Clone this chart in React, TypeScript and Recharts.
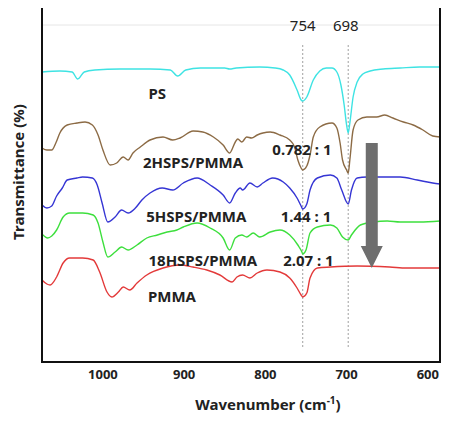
import React from "react";
import {
  LineChart,
  Line,
  XAxis,
  YAxis,
  ReferenceLine,
  ReferenceDot,
} from "recharts";

// wavenumber (cm-1) / stacked transmittance (a.u.)
const psWn = [1075, 1053, 1038, 1031, 1023, 1010, 979, 942, 917, 908, 898, 880, 850, 844, 836, 807, 788, 778, 770, 761, 756, 754, 749, 741, 733, 725, 718, 712, 707, 703, 700, 698, 696, 692, 687, 680, 671, 655, 634, 610, 585];
const psT = [290, 291, 290, 283, 290, 292, 293, 293, 292, 286, 292, 294, 294, 293, 294, 295, 294, 292, 287, 272, 262, 261, 265, 282, 291, 294, 294, 290, 277, 257, 237, 229, 239, 265, 280, 288, 291, 293, 294, 295, 295];

const hs2Wn = [1075, 1069, 1063, 1058, 1053, 1044, 1032, 1022, 1013, 1006, 1000, 991, 983, 975, 969, 963, 954, 942, 926, 914, 905, 889, 877, 864, 852, 844, 837, 834, 829, 823, 817, 810, 803, 794, 782, 770, 764, 760, 756, 754, 749, 745, 741, 733, 718, 712, 708, 705, 700, 698, 696, 692, 686, 675, 663, 653, 643, 630, 618, 606, 594, 585];
const hs2T = [214, 212, 212, 219, 229, 237, 239, 240, 237, 227, 212, 197, 199, 205, 202, 209, 215, 222, 225, 222, 224, 231, 230, 225, 217, 209, 220, 223, 220, 225, 224, 227, 229, 230, 227, 222, 215, 202, 194, 192, 196, 207, 225, 235, 239, 234, 219, 202, 192, 189, 202, 232, 242, 245, 245, 247, 244, 240, 237, 232, 226, 225];

const hs5Wn = [1075, 1069, 1063, 1057, 1050, 1044, 1032, 1025, 1013, 1007, 1001, 994, 985, 977, 969, 960, 952, 942, 927, 914, 901, 884, 868, 852, 844, 837, 831, 828, 819, 810, 803, 791, 778, 770, 761, 756, 754, 749, 745, 736, 720, 712, 706, 698, 694, 687, 675, 634, 613, 594, 585];
const hs5T = [157, 154, 156, 166, 174, 182, 184, 185, 184, 177, 159, 140, 145, 152, 149, 154, 162, 169, 174, 172, 179, 184, 177, 167, 159, 169, 174, 172, 179, 175, 179, 184, 180, 174, 164, 156, 153, 158, 172, 184, 187, 184, 172, 158, 172, 184, 185, 185, 182, 179, 178];

const hs18Wn = [1075, 1068, 1063, 1057, 1049, 1041, 1025, 1012, 1006, 1000, 994, 985, 977, 969, 958, 946, 933, 921, 909, 901, 884, 868, 852, 844, 837, 829, 823, 815, 807, 794, 782, 770, 760, 755, 754, 750, 745, 736, 720, 712, 705, 698, 694, 683, 667, 650, 634, 610, 585];
const hs18T = [128, 124, 126, 132, 145, 149, 149, 147, 139, 120, 105, 110, 115, 112, 117, 124, 127, 130, 132, 135, 139, 134, 124, 112, 124, 127, 125, 129, 125, 130, 132, 127, 117, 110, 108, 112, 129, 135, 137, 134, 125, 122, 127, 137, 140, 141, 140, 140, 141];

const pmmaWn = [1075, 1069, 1065, 1057, 1049, 1041, 1025, 1012, 1004, 995, 989, 981, 975, 967, 958, 946, 926, 905, 889, 872, 856, 841, 835, 828, 819, 810, 798, 782, 770, 761, 756, 754, 749, 745, 736, 720, 687, 647, 626, 594, 585];
const pmmaT = [82, 78, 77, 85, 99, 104, 104, 102, 90, 70, 65, 70, 75, 72, 79, 87, 94, 97, 95, 92, 87, 80, 85, 87, 84, 89, 92, 90, 84, 74, 67, 65, 69, 84, 94, 95, 96, 95, 94, 94, 94];

const xTicks = [1000, 900, 800, 700, 600];
const peaks = [754, 698];
const ratios = ["0.782 : 1", "1.44 : 1", "2.07 : 1"];

const toRows = (wn: number[], t: number[]) => wn.map((w, i) => ({ wn: w, t: t[i] }));

const series = [
  { name: "PS", data: toRows(psWn, psT), color: "#3ee3e3" },
  { name: "2HSPS/PMMA", data: toRows(hs2Wn, hs2T), color: "#8c6b45" },
  { name: "5HSPS/PMMA", data: toRows(hs5Wn, hs5T), color: "#3535d4" },
  { name: "18HSPS/PMMA", data: toRows(hs18Wn, hs18T), color: "#3ddf3d" },
  { name: "PMMA", data: toRows(pmmaWn, pmmaT), color: "#e33a3a" },
];

const font = "'Noto Sans', 'DejaVu Sans', sans-serif";

// where the text notes sit, in chart units
const notes = [
  { text: "PS", x: 933, y: 269 },
  { text: "2HSPS/PMMA", x: 889, y: 200 },
  { text: ratios[0], x: 755, y: 213 },
  { text: "5HSPS/PMMA", x: 885, y: 146 },
  { text: ratios[1], x: 750, y: 146 },
  { text: "18HSPS/PMMA", x: 877, y: 102 },
  { text: ratios[2], x: 747, y: 102 },
  { text: "PMMA", x: 915, y: 66 },
];

const yTicks = Array.from({ length: 12 }, (_, i) => (i + 1) * 27.5);

const Arrow = (p: any) => {
  const { x1, y1, y2 } = p;
  const x = x1;
  const head = 22;
  const pts = [
    [x - 6, y1],
    [x + 6, y1],
    [x + 6, y2 - head],
    [x + 11, y2 - head],
    [x, y2],
    [x - 11, y2 - head],
    [x - 6, y2 - head],
  ]
    .map((q) => q.join(","))
    .join(" ");
  return <polygon points={pts} fill="#6e6e6e" />;
};

const XTitle = (p: any) => {
  const vb = p.viewBox;
  return (
    <text
      x={vb.x + vb.width / 2 + 27}
      y={vb.y + 48}
      textAnchor="middle"
      fontFamily={font}
      fontWeight="bold"
      fontSize={15}
      fill="#222"
    >
      <tspan>Wavenumber (cm</tspan>
      <tspan dy={-6} fontSize={10}>-1</tspan>
      <tspan dy={6}>)</tspan>
    </text>
  );
};

const YTitle = () => (
  <text
    x={18}
    y={172}
    transform="rotate(-90 18 172)"
    textAnchor="middle"
    dominantBaseline="central"
    fontFamily={font}
    fontWeight="bold"
    fontSize={15}
    fill="#222"
  >
    Transmittance (%)
  </text>
);

export default function App() {
  return (
    <div style={{ margin: -8, position: "relative", width: 457, height: 423 }}>
      <LineChart width={457} height={423} margin={{ top: 7, right: 17, bottom: 0, left: 0 }}>
        <XAxis
          dataKey="wn"
          type="number"
          domain={[585, 1075]}
          reversed
          ticks={xTicks}
          axisLine={false}
          tickLine={false}
          height={61}
          allowDataOverflow
          tick={{ fontFamily: font, fontWeight: "bold", fontSize: 13, fill: "#222" }}
          label={{ content: XTitle }}
        />
        <YAxis
          type="number"
          domain={[0, 355]}
          ticks={yTicks}
          width={42}
          axisLine={false}
          tick={false}
          tickSize={3}
          tickLine={{ stroke: "#999" }}
          allowDataOverflow
          label={{ content: YTitle }}
        />
        <ReferenceLine y={337} stroke="#e6e6e6" ifOverflow="visible" />
        {peaks.map((p) => (
          <ReferenceLine
            key={p}
            segment={[{ x: p, y: 317 }, { x: p, y: 15 }]}
            stroke="#888"
            strokeWidth={0.8}
            strokeDasharray="2 2"
          />
        ))}
        {series.map((s) => (
          <Line
            key={s.name}
            data={s.data}
            dataKey="t"
            type="monotone"
            stroke={s.color}
            strokeWidth={1.4}
            dot={false}
            isAnimationActive={false}
          />
        ))}
        <ReferenceLine
          segment={[{ x: 669, y: 219 }, { x: 669, y: 94 }]}
          shape={Arrow}
          ifOverflow="visible"
        />
        {peaks.map((p, i) => (
          <ReferenceDot
            key={"l" + p}
            x={i === 0 ? 754 : 701}
            y={337}
            r={1}
            shape={(d: any) => (
              <text
                x={d.cx}
                y={d.cy}
                textAnchor="middle"
                dominantBaseline="central"
                fontFamily={font}
                fontSize={15}
                fill="#222"
              >
                {p}
              </text>
            )}
          />
        ))}
        {notes.map((n) => (
          <ReferenceDot
            key={n.text}
            x={n.x}
            y={n.y}
            r={1}
            shape={(d: any) => (
              <text
                x={d.cx}
                y={d.cy}
                textAnchor="middle"
                dominantBaseline="central"
                fontFamily={font}
                fontWeight="bold"
                fontSize={15}
                fill="#222"
              >
                {n.text}
              </text>
            )}
          />
        ))}
      </LineChart>
      {/* plot frame */}
      <div
        style={{
          position: "absolute",
          left: 41,
          top: 6,
          width: 400,
          height: 357,
          boxSizing: "border-box",
          border: "2px solid #111",
          pointerEvents: "none",
        }}
      />
    </div>
  );
}
